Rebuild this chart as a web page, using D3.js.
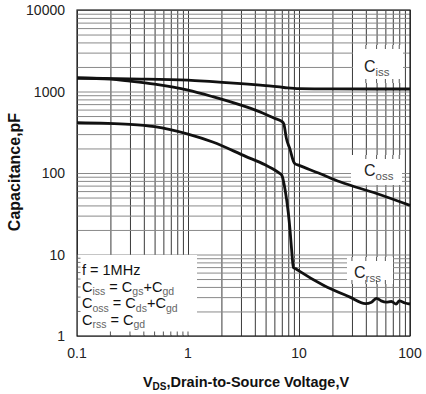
<!DOCTYPE html>
<html><head><meta charset="utf-8">
<script src="https://cdn.jsdelivr.net/npm/d3@7/dist/d3.min.js"></script>
<style>
body{margin:0;background:#fff;}
text{font-family:"Liberation Sans",Arial,sans-serif;}
</style></head>
<body><svg id="c" width="426" height="394"></svg>
<script>
// ---- data ----
const xTickLabels = [0.1, 1, 10, 100];
const yTickLabels = [1, 10, 100, 1000, 10000];

const vIss = [0.1, 0.3, 1, 1.67, 3, 5, 7.3, 10, 20, 50, 100];
const cIss = [1465, 1430, 1380, 1318, 1250, 1180, 1120, 1085, 1075, 1073, 1073];

const vOss = [0.1, 0.2, 0.3, 0.5, 1, 1.67, 2, 3.3, 4.7, 6.0, 7.0, 7.3, 7.7, 8.3, 8.9, 9.2, 10, 15, 23.4, 50, 100];
const cOss = [1465, 1420, 1340, 1230, 1040, 864, 805, 651, 545, 470, 430, 400, 265, 195, 140, 130, 124, 100, 78, 56, 40];

const vRss = [0.1, 0.3, 0.5, 1, 1.67, 3.3, 5, 6.7, 7.0, 7.5, 8.0, 8.3, 8.6, 8.9, 9.5, 10, 16.6, 28.8, 39.6, 45, 50, 55, 61, 68, 75, 80, 90, 100];
const cRss = [414, 395, 370, 300, 240, 160, 125, 99, 94, 62, 33, 20, 11, 6.9, 6.6, 6.3, 4.2, 3.0, 2.5, 2.6, 2.9, 2.7, 2.6, 2.65, 2.47, 2.7, 2.54, 2.47];

const seriesNames = ["iss", "oss", "rss"];

// ---- layout ----
const L = 77, R = 410, T = 10, B = 336;
const svg = d3.select("#c");
const xs = d3.scaleLog().domain([0.1, 100]).range([L, R]);
const ys = d3.scaleLog().domain([1, 10000]).range([B, T]);

// grid
const gx = svg.append("g").attr("transform", `translate(0,${B})`)
  .call(d3.axisBottom(xs).tickValues(xs.ticks()).tickSize(-(B - T)).tickFormat(""));
gx.select(".domain").remove();
gx.selectAll("line").attr("stroke", "#3a3a3a").attr("stroke-width", 1);

const gy = svg.append("g").attr("transform", `translate(${L},0)`)
  .call(d3.axisLeft(ys).tickValues(ys.ticks()).tickSize(-(R - L)).tickFormat(""));
gy.select(".domain").remove();
gy.selectAll("line").attr("stroke", "#8a8a8a").attr("stroke-width", 1);

// white boxes hiding grid, with small stubs
function box(x0, y0, x1, y1, stubs, stubsLeft) {
  svg.append("rect").attr("x", x0).attr("y", y0).attr("width", x1 - x0).attr("height", y1 - y0).attr("fill", "#fff");
  xs.ticks().filter(v => xs(v) > x0 + 1 && xs(v) < x1 - 1).forEach(v => {
    if (stubs.top) svg.append("line").attr("x1", xs(v)).attr("x2", xs(v)).attr("y1", y0).attr("y2", y0 + 4).attr("stroke", "#555");
    if (stubs.bottom) svg.append("line").attr("x1", xs(v)).attr("x2", xs(v)).attr("y1", y1 - 4).attr("y2", y1).attr("stroke", "#555");
  });
  if (stubsLeft) {
    ys.ticks().filter(v => ys(v) > y0 + 1 && ys(v) < y1 - 1).forEach(v => {
      svg.append("line").attr("x1", x0).attr("x2", x0 + 3).attr("y1", ys(v)).attr("y2", ys(v)).attr("stroke", "#777");
    });
  }
}
box(L + 0.5, ys(10) + 0.5, 197, B - 0.5, {bottom: true}, true);
box(353, 45, 403, 83, {top: true, bottom: true});
box(351, 155, 402, 185, {top: true});
box(347, 257, 393, 284, {top: true, bottom: true});

// frame
svg.append("rect").attr("x", L).attr("y", T).attr("width", R - L).attr("height", B - T)
  .attr("fill", "none").attr("stroke", "#222").attr("stroke-width", 1.2);

// curves
const line = d3.line().x(d => xs(d[0])).y(d => ys(d[1])).curve(d3.curveMonotoneX);
[[vIss, cIss], [vOss, cOss], [vRss, cRss]].forEach(([v, c]) => {
  svg.append("path").datum(v.map((x, i) => [x, c[i]])).attr("d", line)
    .attr("fill", "none").attr("stroke", "#111").attr("stroke-width", 2.8).attr("stroke-linejoin", "round");
});

// tick labels
const fmt = d => d < 1 ? String(d) : d3.format("d")(d);
xTickLabels.forEach(v => {
  svg.append("text").attr("x", xs(v)).attr("y", 358).attr("text-anchor", "middle")
    .attr("font-size", 14).attr("fill", "#222").text(fmt(v));
});
yTickLabels.forEach(v => {
  svg.append("text").attr("x", 65).attr("y", ys(v) + 5).attr("text-anchor", "end")
    .attr("font-size", 14).attr("fill", "#222").text(fmt(v));
});

// axis titles
const xt = svg.append("text").attr("x", 246).attr("y", 387).attr("text-anchor", "middle")
  .attr("font-size", 14.5).attr("font-weight", "bold").attr("fill", "#111");
xt.append("tspan").text("V");
xt.append("tspan").attr("font-size", 10).attr("dy", 3).text("DS");
xt.append("tspan").attr("dy", -3).text(",Drain-to-Source Voltage,V");

svg.append("text").attr("transform", "translate(20,172) rotate(-90)").attr("text-anchor", "middle")
  .attr("font-size", 16).attr("font-weight", "bold").attr("fill", "#111").text("Capacitance,pF");

// curve labels
function cLabel(x, y, sub) {
  const t = svg.append("text").attr("x", x).attr("y", y).attr("font-size", 16).attr("fill", "#222");
  t.append("tspan").text("C");
  t.append("tspan").attr("font-size", 11.5).attr("dy", 4).attr("fill", "#555").text(sub);
}
cLabel(364, 72, seriesNames[0]);
cLabel(364, 176, seriesNames[1]);
cLabel(354, 278, seriesNames[2]);

// legend text
svg.append("text").attr("x", 82).attr("y", 275).attr("font-size", 14.5).attr("fill", "#111").text("f = 1MHz");
function eq(y, parts) {
  const t = svg.append("text").attr("x", 82).attr("y", y).attr("font-size", 14.5).attr("fill", "#111");
  let low = false;
  parts.forEach(([s, isSub]) => {
    if (isSub) {
      t.append("tspan").attr("font-size", 10.5).attr("dy", low ? 0 : 3.5).attr("fill", "#666").text(s);
      low = true;
    } else {
      t.append("tspan").attr("dy", low ? -3.5 : 0).text(s);
      low = false;
    }
  });
}
eq(291.5, [["C"], ["iss", 1], [" = C"], ["gs", 1], ["+C"], ["gd", 1]]);
eq(308, [["C"], ["oss", 1], [" = C"], ["ds", 1], ["+C"], ["gd", 1]]);
eq(324.5, [["C"], ["rss", 1], [" = C"], ["gd", 1]]);
</script></body></html>
